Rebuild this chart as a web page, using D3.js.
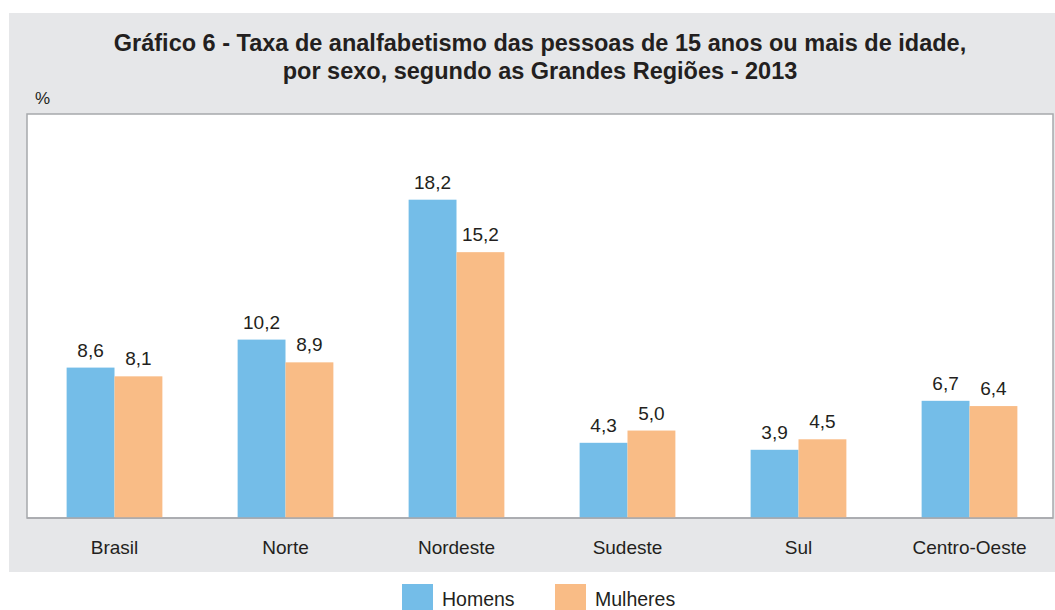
<!DOCTYPE html>
<html>
<head>
<meta charset="utf-8">
<script src="https://cdn.jsdelivr.net/npm/d3@7"></script>
<style>
  body { margin: 0; background: #fff; }
  text { font-family: "Liberation Sans", Arial, sans-serif; fill: #231f20; }
</style>
</head>
<body>
<svg width="1055" height="610"></svg>
<script>
const regions = ["Brasil", "Norte", "Nordeste", "Sudeste", "Sul", "Centro-Oeste"];
const homens = [8.6, 10.2, 18.2, 4.3, 3.9, 6.7];
const mulheres = [8.1, 8.9, 15.2, 5.0, 4.5, 6.4];
const seriesNames = ["Homens", "Mulheres"];
const colors = ["#74bde8", "#f9bc86"];

const svg = d3.select("svg");

// gray panel
svg.append("rect")
  .attr("x", 9).attr("y", 13)
  .attr("width", 1046).attr("height", 559)
  .attr("fill", "#e6e7e9");

// title
svg.append("text")
  .attr("x", 540).attr("y", 51)
  .attr("text-anchor", "middle")
  .style("font-size", "23.5px").style("font-weight", "bold")
  .text("Gráfico 6 - Taxa de analfabetismo das pessoas de 15 anos ou mais de idade,");
svg.append("text")
  .attr("x", 540).attr("y", 79)
  .attr("text-anchor", "middle")
  .style("font-size", "23.5px").style("font-weight", "bold")
  .text("por sexo, segundo as Grandes Regiões - 2013");

svg.append("text")
  .attr("x", 35).attr("y", 104)
  .style("font-size", "17px")
  .text("%");

const plot = { left: 27, right: 1053, top: 114, bottom: 518 };

svg.append("rect")
  .attr("x", plot.left).attr("y", plot.top)
  .attr("width", plot.right - plot.left).attr("height", plot.bottom - plot.top)
  .attr("fill", "#fff")
  .attr("stroke", "#a7a9ac")
  .attr("stroke-width", 1.5);

const x0 = d3.scaleBand()
  .domain(regions)
  .range([29, 1055])
  .paddingInner(0.44)
  .paddingOuter(0.22);

const x1 = d3.scaleBand()
  .domain(seriesNames)
  .range([0, x0.bandwidth()]);

const y = d3.scaleLinear()
  .domain([0, 23.1])
  .range([plot.bottom, plot.top]);

const data = regions.map((r, i) => ({
  region: r,
  values: [
    { key: "Homens", value: homens[i] },
    { key: "Mulheres", value: mulheres[i] }
  ]
}));

const groups = svg.selectAll("g.group")
  .data(data)
  .enter()
  .append("g")
  .attr("class", "group")
  .attr("transform", d => "translate(" + x0(d.region) + ",0)");

groups.selectAll("rect")
  .data(d => d.values)
  .enter()
  .append("rect")
  .attr("x", d => x1(d.key))
  .attr("y", d => y(d.value))
  .attr("width", x1.bandwidth())
  .attr("height", d => y(0) - y(d.value))
  .attr("fill", (d, i) => colors[i]);

groups.selectAll("text.val")
  .data(d => d.values)
  .enter()
  .append("text")
  .attr("class", "val")
  .attr("x", d => x1(d.key) + x1.bandwidth() / 2)
  .attr("y", d => y(d.value) - 11)
  .attr("text-anchor", "middle")
  .style("font-size", "19px")
  .text(d => d3.format(".1f")(d.value).replace(".", ","));

// bottom border line redrawn over bars
svg.append("line")
  .attr("x1", plot.left).attr("x2", plot.right)
  .attr("y1", plot.bottom).attr("y2", plot.bottom)
  .attr("stroke", "#a7a9ac").attr("stroke-width", 1.5);

// category labels
svg.selectAll("text.cat")
  .data(regions)
  .enter()
  .append("text")
  .attr("class", "cat")
  .attr("x", d => x0(d) + x0.bandwidth() / 2)
  .attr("y", 554)
  .attr("text-anchor", "middle")
  .style("font-size", "19px")
  .text(d => d);

// legend
const legend = svg.append("g");
const legX = [402, 555];
seriesNames.forEach((name, i) => {
  legend.append("rect")
    .attr("x", legX[i]).attr("y", 584)
    .attr("width", 31).attr("height", 26)
    .attr("fill", colors[i]);
  legend.append("text")
    .attr("x", legX[i] + 40).attr("y", 606)
    .style("font-size", "19.5px")
    .text(name);
});
</script>
</body>
</html>
